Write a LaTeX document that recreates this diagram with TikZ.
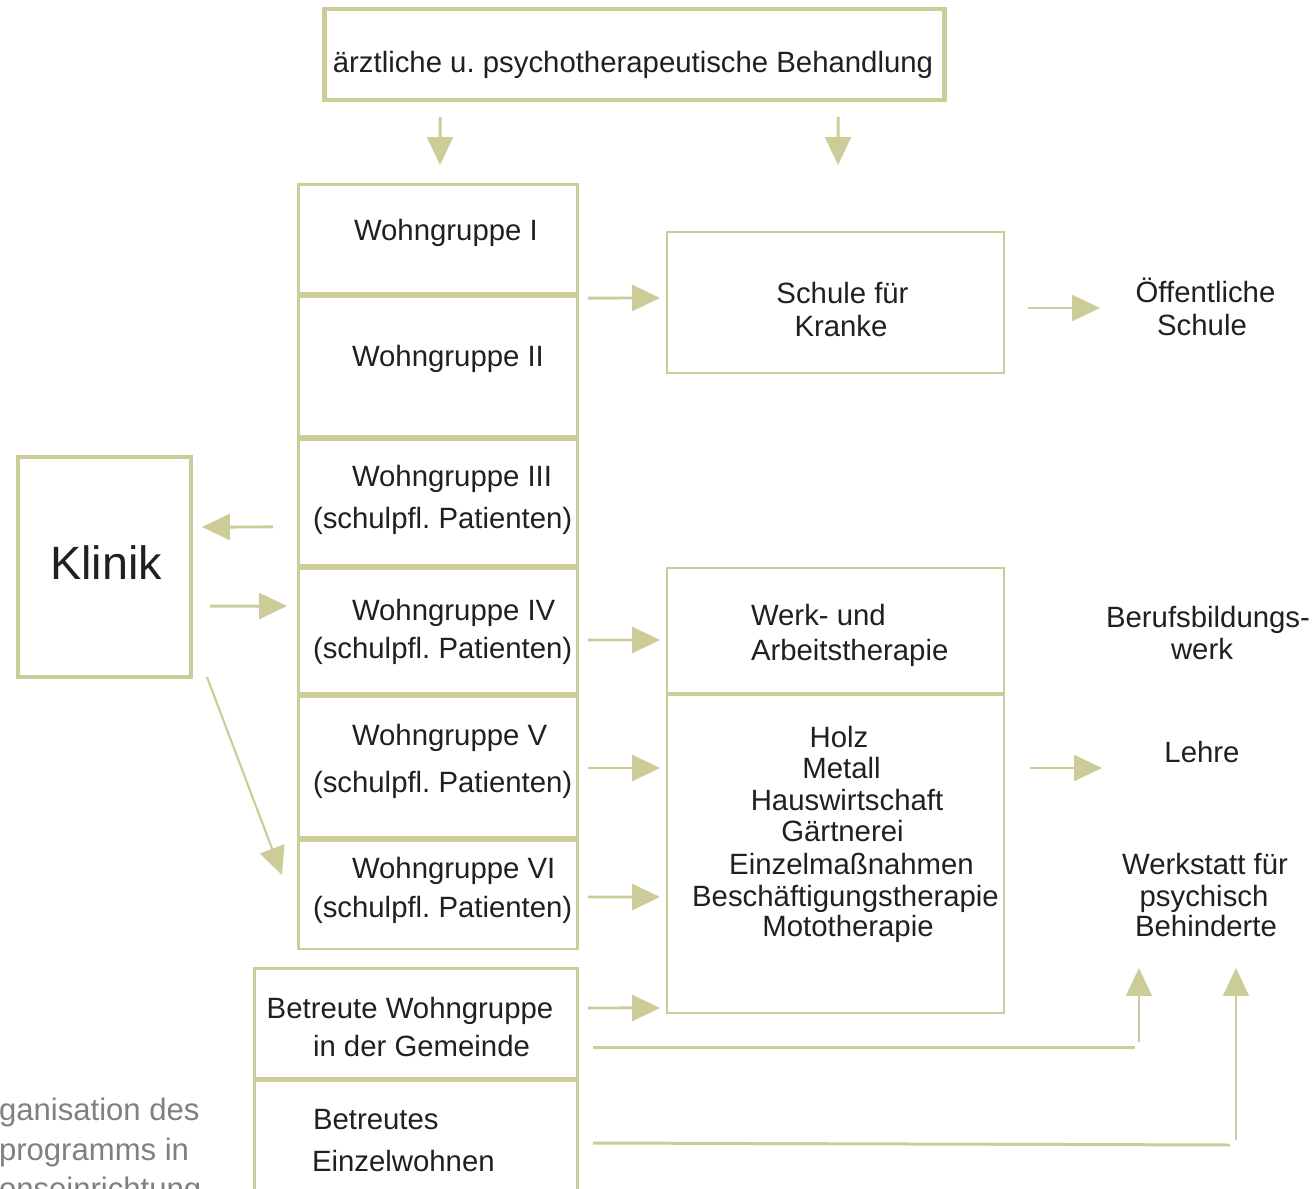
\documentclass[tikz,border=0pt]{standalone}
\usepackage{fontspec}
\setmainfont{Liberation Sans}
\usetikzlibrary{arrows.meta,calc}
\definecolor{lineclr}{RGB}{204,204,153}
\definecolor{inkclr}{RGB}{35,31,32}
\definecolor{capclr}{RGB}{128,128,128}
\newcommand\mainsize{\fontsize{16.7pt}{20pt}\selectfont}
\newcommand\bigsize{\fontsize{26.6pt}{30pt}\selectfont}
\newcommand\capsize{\fontsize{17.7pt}{21pt}\selectfont}
\frenchspacing

\tikzset{
  box/.style={draw=lineclr, line width=1.7pt, inner sep=0pt, outer sep=0pt},
  heavybox/.style={box, line width=2.8pt},
  lightbox/.style={box, line width=1.4pt},
  txt/.style={text=inkclr, font=\mainsize, inner sep=0pt, outer sep=0pt, anchor=base},
  ltxt/.style={txt, anchor=base west},
  captxt/.style={txt, font=\capsize, text=capclr, anchor=base west},
  arr/.style={draw=lineclr, line width=1.7pt, -{Triangle[length=15.9pt,width=14.7pt]}},
  thinarr/.style={arr, line width=1.2pt},
  plainline/.style={draw=lineclr, line width=1.7pt}
}

\begin{document}
\begin{tikzpicture}[x=0.02cm, y=-0.02cm]
\useasboundingbox (0,0) rectangle (1315,1189);
\fill[white] (0,0) rectangle (1315,1189);
\clip (0,0) rectangle (1315,1189);

% --- boxes ---
\node[heavybox, minimum width=12.42cm, minimum height=1.82cm] (top) at (634.5,54.5) {};
\node[heavybox, minimum width=3.46cm, minimum height=4.4cm] (klinik) at (104.5,567) {};

\node[box, minimum width=5.6cm, minimum height=2.2cm]  (wg1) at (438,239) {};
\node[box, minimum width=5.6cm, minimum height=2.82cm] (wg2) at (438,366.5) {};
\node[box, minimum width=5.6cm, minimum height=2.54cm] (wg3) at (438,502.5) {};
\node[box, minimum width=5.6cm, minimum height=2.52cm] (wg4) at (438,631) {};
\node[box, minimum width=5.6cm, minimum height=2.84cm] (wg5) at (438,767) {};
\node[box, minimum width=5.6cm, minimum height=2.18cm] (wg6) at (438,894.5) {};
\node[box, minimum width=6.48cm, minimum height=2.2cm] (bwg) at (416,1023) {};
\node[box, minimum width=6.48cm, minimum height=2.4cm] (bew) at (416,1140) {};

\node[lightbox, minimum width=6.74cm, minimum height=2.82cm] (schule) at (835.5,302.5) {};
\node[lightbox, minimum width=6.74cm, minimum height=2.5cm]  (werk) at (835.5,630.5) {};
\node[lightbox, minimum width=6.74cm, minimum height=6.36cm] (holz) at (835.5,854) {};

% --- texts ---
\node[txt] (toptxt) at (633,73) {ärztliche u. psychotherapeutische Behandlung};
\node[txt, font=\bigsize] (kliniktxt) at (106,579) {Klinik};

\node[ltxt] (wg1a) at (354,241) {Wohngruppe I};
\node[ltxt] (wg2a) at (352,367) {Wohngruppe II};
\node[ltxt] (wg3a) at (352,486) {Wohngruppe III};
\node[ltxt] (wg3b) at (313,528) {(schulpfl. Patienten)};
\node[ltxt] (wg4a) at (352,620) {Wohngruppe IV};
\node[ltxt] (wg4b) at (313,658) {(schulpfl. Patienten)};
\node[ltxt] (wg5a) at (352,745) {Wohngruppe V};
\node[ltxt] (wg5b) at (313,792) {(schulpfl. Patienten)};
\node[ltxt] (wg6a) at (352,878) {Wohngruppe VI};
\node[ltxt] (wg6b) at (313,917) {(schulpfl. Patienten)};

\node[txt] (bwga) at (410,1018) {Betreute Wohngruppe};
\node[txt] (bwgb) at (421.5,1056) {in der Gemeinde};
\node[ltxt] (bewa) at (313,1129) {Betreutes};
\node[ltxt] (bewb) at (312,1171) {Einzelwohnen};

\node[txt] (schulea) at (842.5,304) {Schule für};
\node[txt] (schuleb) at (841,337) {Kranke};
\node[ltxt] (werka) at (751,625) {Werk- und};
\node[ltxt] (werkb) at (751,660) {Arbeitstherapie};

\node[txt] (h1) at (839,747) {Holz};
\node[txt] (h2) at (841.5,778) {Metall};
\node[txt] (h3) at (847,810) {Hauswirtschaft};
\node[txt] (h4) at (842.5,841) {Gärtnerei};
\node[txt] (h5) at (851.5,874) {Einzelmaßnahmen};
\node[txt] (h6) at (845.5,906) {Beschäftigungstherapie};
\node[txt] (h7) at (848,936) {Mototherapie};

\node[txt] (oeffa) at (1205.5,303) {Öffentliche};
\node[txt] (oeffb) at (1202,336) {Schule};
\node[txt] (berufa) at (1208,627) {Berufsbildungs-};
\node[txt] (berufb) at (1202,659) {werk};
\node[txt] (lehre) at (1202,762) {Lehre};
\node[txt] (wfba) at (1205,874) {Werkstatt für};
\node[txt] (wfbb) at (1204,906) {psychisch};
\node[txt] (wfbc) at (1206,936) {Behinderte};

\node[captxt] (cap1) at (-1,1120) {ganisation des};
\node[captxt] (cap2) at (-1,1160) {programms in};
\node[captxt] (cap3) at (-1,1199) {onseinrichtung};

% --- connectors ---
\draw[arr] ($(top.south west)+(116,17)$) -- ($(wg1.north)+(2,-19)$);
\draw[arr] ($(top.south west)+(514,17)$) -- ($(schule.north)+(2.5,-67)$);
\draw[arr] ($(wg2.north east)+(10,2)$) -- ($(schule.west)+(-7,-4.5)$);
\draw[arr] ($(schule.east)+(24,5.5)$) -- ($(schule.east)+(96,5.5)$);

\draw[arr] ($(wg3.south west)+(-25,-39)$) -- ($(klinik.north east)+(11,70)$);
\draw[arr] ($(klinik.north east)+(19,149)$) -- ($(wg4.north west)+(-11,38)$);
\draw[thinarr] ($(klinik.south east)+(16,0)$) -- ($(wg6.north west)+(-16,35)$);

\draw[arr] ($(wg4.east)+(10,9)$) -- ($(werk.west)+(-7,9.5)$);
\draw[arr] ($(wg5.east)+(10,1)$) -- ($(holz.west)+(-7,-86)$);
\draw[arr] ($(wg6.east)+(10,2.5)$) -- ($(holz.west)+(-7,43)$);
\draw[arr] ($(bwg.east)+(10,-15)$) -- ($(holz.south west)+(-7,-5)$);
\draw[arr] ($(holz.east)+(26,-86)$) -- ($(holz.east)+(98,-86)$);

\draw[plainline] ($(bwg.east)+(15,24)$) -- ($(bwg.east)+(557,24)$);
\draw[thinarr] ($(bwg.east)+(561,19)$) -- ($(bwg.east)+(561,-55)$);
\draw[plainline] ($(bew.east)+(15,3)$) -- ($(bew.east)+(652,5)$);
\draw[thinarr] ($(bew.east)+(658,0)$) -- ($(bew.east)+(658,-172)$);
\end{tikzpicture}
\end{document}
